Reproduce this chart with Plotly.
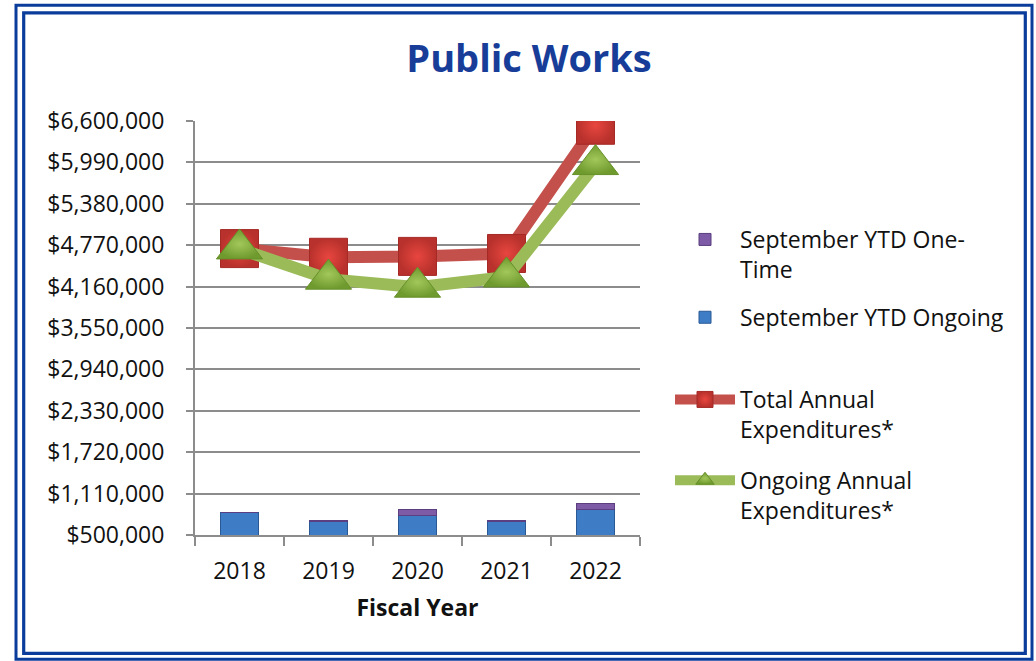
import plotly.graph_objects as go

# ---- data ----
years = ["2018", "2019", "2020", "2021", "2022"]
ytd_ongoing = [826000, 695000, 787000, 697000, 871000]
ytd_one_time = [0, 14000, 84000, 12000, 88000]
total_annual = [4720000, 4592000, 4605000, 4648000, 6537000]
ongoing_annual = [4715000, 4269000, 4151000, 4302000, 5958000]

y_min, y_max, y_step = 500000, 6600000, 610000

# ---- layout geometry (pixels) ----
W, H = 1036, 661
plot_l, plot_r, plot_t, plot_b = 195, 640, 121, 535.5
FONT = "Open Sans"
BLUE_FRAME = "#0A3C9C"
GRID = "#8C8C8C"


def px_to_paper(x, y):
    return (x - plot_l) / (plot_r - plot_l), (plot_b - y) / (plot_b - plot_t)


fig = go.Figure()

fig.add_trace(go.Bar(
    x=years, y=ytd_ongoing, name="September YTD Ongoing",
    marker=dict(color="#3F7CC6", line=dict(color="#2A5A96", width=1)),
    width=0.42, legend="legend", legendgroup="b2", legendrank=2,
))
fig.add_trace(go.Bar(
    x=years, y=ytd_one_time, name="September YTD One-<br>Time",
    marker=dict(color="#7D5BA6", line=dict(color="#5B3F80", width=1)),
    width=0.42, legend="legend", legendgroup="b1", legendrank=1,
))
fig.add_trace(go.Scatter(
    x=years, y=total_annual, mode="lines+markers",
    name="Total Annual<br>Expenditures*",
    line=dict(color="#C4504C", width=12),
    marker=dict(symbol="square", size=38, color="#B8312C",
                gradient=dict(type="radial", color="#E8463F"),
                line=dict(color="#A52A26", width=1)),
    legend="legend2", legendgroup="l1", legendrank=3,
))
fig.add_trace(go.Scatter(
    x=years, y=ongoing_annual, mode="lines+markers",
    name="Ongoing Annual<br>Expenditures*",
    line=dict(color="#9BBB59", width=12),
    marker=dict(symbol="triangle-up", size=40, color="#6F9A2E",
                gradient=dict(type="radial", color="#A2C75A"),
                line=dict(color="#66902A", width=1)),
    legend="legend2", legendgroup="l2", legendrank=4,
))

# double frame around the chart
shapes = []
for (x0, y0, x1, y1, w) in [(16, 5, 1032, 660, 3), (23.7, 12.8, 1025.3, 654, 3.2)]:
    px0, py0 = px_to_paper(x0, y1)
    px1, py1 = px_to_paper(x1, y0)
    shapes.append(dict(type="rect", xref="paper", yref="paper",
                       x0=px0, y0=py0, x1=px1, y1=py1,
                       line=dict(color=BLUE_FRAME, width=w), layer="below"))

tick_vals = [y_min + i * y_step for i in range(11)]

fig.update_layout(
    width=W, height=H,
    margin=dict(l=plot_l, r=W - plot_r, t=plot_t, b=H - plot_b, pad=0),
    paper_bgcolor="white", plot_bgcolor="white",
    barmode="stack", bargap=0.58,
    font=dict(family=FONT, size=23, color="#111111"),
    title=dict(text="<b>Public Works</b>", x=529 / W, y=1 - 59 / H,
               xref="container", yref="container",
               xanchor="center", yanchor="middle",
               font=dict(family=FONT, size=38, color="#173D99")),
    xaxis=dict(
        type="category", range=[-0.5, 4.5],
        showline=True, linecolor=GRID, linewidth=2,
        ticks="outside", tickson="boundaries", ticklen=9, tickwidth=2, tickcolor=GRID,
        showgrid=False, ticklabelstandoff=14,
        title=dict(text="<b>Fiscal Year</b>", font=dict(size=23), standoff=15),
    ),
    yaxis=dict(
        range=[y_min, y_max], tickvals=tick_vals, tickformat="$,.0f",
        showline=True, linecolor=GRID, linewidth=2,
        ticks="outside", ticklen=7, tickwidth=2, tickcolor=GRID,
        showgrid=True, gridcolor=GRID, gridwidth=2, zeroline=False,
        ticklabelstandoff=17,
    ),
    legend=dict(
        x=670 / W, y=1 - 218 / H, xref="container", yref="container",
        xanchor="left", yanchor="top", traceorder="grouped",
        tracegroupgap=15, valign="top", itemwidth=60,
        bgcolor="rgba(0,0,0,0)", font=dict(size=23),
    ),
    legend2=dict(
        x=670 / W, y=1 - 378 / H, xref="container", yref="container",
        xanchor="left", yanchor="top", traceorder="grouped",
        tracegroupgap=18, valign="top", itemwidth=60,
        bgcolor="rgba(0,0,0,0)", font=dict(size=23),
    ),
    shapes=shapes,
)

fig.write_html("out.html")
